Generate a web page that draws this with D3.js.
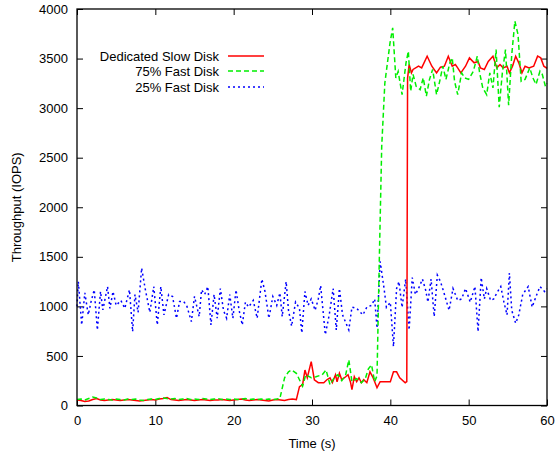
<!DOCTYPE html>
<html><head><meta charset="utf-8">
<script src="https://cdn.jsdelivr.net/npm/d3@7/dist/d3.min.js"></script>
<style>
html,body{margin:0;padding:0;background:#fff;}
svg text{font-family:"Liberation Sans",Arial,sans-serif;font-size:13px;fill:#000;}
</style></head><body>
<svg id="c" width="556" height="454"></svg>
<script>
// ---- data ----
const xTicks = [0, 10, 20, 30, 40, 50, 60];
const yTicks = [0, 500, 1000, 1500, 2000, 2500, 3000, 3500, 4000];
const seriesNames = ["Dedicated Slow Disk", "75% Fast Disk", "25% Fast Disk"];

const slowDisk = [
 [0,55],[0.5,50],[1,40],[1.5,45],[2,60],[2.5,70],[3,55],[3.5,50],[4,55],[4.5,60],[5,55],[5.5,50],[6,55],[6.5,60],[7,55],[7.5,50],[8,45],[8.5,50],[9,55],[9.5,60],[10,55],[10.5,65],[11,70],[11.5,80],[12,60],[12.5,55],[13,50],[13.5,55],[14,60],[14.5,55],[15,50],[15.5,55],[16,60],[16.5,55],[17,50],[17.5,55],[18,55],[18.5,60],[19,55],[19.5,50],[20,55],[20.5,60],[21,65],[21.5,55],[22,50],[22.5,55],[23,60],[23.5,55],[24,50],[24.5,45],[25,55],[25.5,60],[26,55],[26.5,50],[27,60],[27.5,65],
 [28.0,60],[28.4,190],[28.8,210],[29.1,358],[29.4,280],[29.9,443],[30.3,260],[30.8,230],[31.5,230],[31.9,260],[32.3,280],[32.6,230],[33.0,310],[33.2,240],[33.5,325],[33.8,260],[34.3,290],[34.6,310],[34.9,240],[35.1,160],[35.4,290],[35.7,240],[36.0,280],[36.3,230],[36.6,260],[37.0,230],[37.4,340],[37.8,280],[38.3,180],[38.7,240],[39.3,240],[40.0,240],[40.4,340],[40.8,340],[41.2,280],[41.9,230],[42.1,240],
 [42.2,3300],[42.4,3440],[42.7,3356],[42.9,3390],[43.6,3423],[44.0,3406],[44.7,3524],[45.3,3423],[45.9,3356],[46.4,3413],[46.9,3423],[47.4,3524],[47.9,3423],[48.3,3440],[48.6,3406],[49.0,3356],[49.6,3423],[50.1,3507],[50.7,3457],[51.2,3470],[51.5,3406],[52.0,3390],[52.5,3470],[53.1,3524],[53.6,3406],[54.0,3440],[54.4,3406],[54.9,3423],[55.2,3356],[55.6,3423],[56.0,3524],[56.4,3457],[56.8,3356],[57.2,3423],[57.7,3406],[58.3,3423],[58.8,3524],[59.2,3507],[59.6,3423],[60,3400]
];

const fast75 = [
 [0,60],[0.5,65],[1,55],[1.5,70],[2,85],[2.5,75],[3,60],[3.5,65],[4,60],[4.5,55],[5,65],[5.5,60],[6,55],[6.5,65],[7,60],[7.5,65],[8,55],[8.5,50],[9,60],[9.5,65],[10,60],[10.5,70],[11,75],[11.5,70],[12,65],[12.5,70],[13,60],[13.5,65],[14,70],[14.5,60],[15,65],[15.5,60],[16,70],[16.5,65],[17,60],[17.5,65],[18,70],[18.5,60],[19,65],[19.5,60],[20,65],[20.5,60],[21,65],[21.5,70],[22,60],[22.5,65],[23,60],[23.5,65],[24,60],[24.5,65],[25,60],[25.5,65],[25.9,70],
 [26.5,280],[27.0,340],[27.4,358],[28.0,325],[28.4,260],[28.8,195],[29.2,310],[29.9,280],[30.5,290],[31.3,310],[31.8,358],[32.3,210],[32.9,290],[33.3,310],[33.8,250],[34.3,310],[34.7,460],[35.1,240],[35.7,270],[36.3,230],[36.8,270],[37.2,370],[37.6,410],[38.0,240],[38.3,300],
 [38.6,1500],[38.9,2614],[39.3,3254],[39.96,3658],[40.3,3810],[40.7,3305],[41.0,3370],[41.5,3136],[42.0,3456],[42.3,3574],[42.6,3170],[42.9,3340],[43.3,3220],[43.8,3187],[44.2,3305],[44.6,3120],[45.0,3290],[45.4,3390],[45.9,3136],[46.3,3270],[46.7,3423],[47.1,3290],[47.6,3457],[47.9,3507],[48.2,3270],[48.6,3136],[49.1,3356],[49.5,3305],[50.0,3290],[50.6,3373],[51.1,3524],[51.4,3356],[51.8,3204],[52.3,3136],[52.7,3356],[53.1,3204],[53.5,3590],[53.9,3010],[54.3,3356],[54.7,3590],[55.1,3030],[55.5,3540],[55.9,3877],[56.3,3743],[56.7,3270],[57.2,3290],[57.8,3406],[58.2,3305],[58.6,3240],[59.1,3373],[59.4,3340],[59.8,3220],[60,3250]
];

const fast25 = [
 [0,1000],[0.17,1250],[0.6,813],[1.0,1136],[1.44,914],[1.8,1050],[2.2,1167],[2.6,762],[3.0,1150],[3.3,965],[3.9,1200],[4.2,980],[4.6,1150],[5.0,1010],[5.6,1060],[6.1,980],[6.7,1167],[7.1,745],[7.4,1120],[7.8,940],[8.25,1386],[8.7,1180],[9.3,940],[9.8,1200],[10.25,813],[10.7,1200],[11.1,914],[11.7,1120],[12.2,1100],[12.7,880],[13.1,1050],[13.6,1050],[14.0,1010],[14.6,847],[15.0,1100],[15.6,897],[15.9,1167],[16.3,1120],[16.7,1200],[17.1,813],[17.5,1120],[17.9,880],[18.3,1180],[18.7,960],[19.1,880],[19.5,1120],[19.9,880],[20.3,1167],[20.7,960],[21.1,813],[21.5,1043],[21.9,993],[22.5,1060],[23.0,880],[23.6,1275],[24.0,1150],[24.5,880],[25.0,1100],[25.5,1010],[25.9,1136],[26.2,897],[26.7,1250],[27.0,960],[27.4,800],[27.9,1043],[28.4,980],[28.7,732],[29.1,1150],[29.5,1010],[29.9,1075],[30.4,960],[30.8,1075],[31.1,1210],[31.7,715],[32.2,914],[32.7,1180],[33.1,762],[33.5,1180],[33.9,914],[34.7,762],[35.1,993],[35.7,980],[36.5,914],[37.0,993],[37.6,1010],[38.0,1075],[38.3,780],[38.7,1453],[39.2,1180],[39.5,990],[40.0,1040],[40.4,594],[40.8,1180],[41.1,1250],[41.5,990],[41.96,1275],[42.4,762],[42.8,1290],[43.2,1120],[43.6,1180],[44.1,1275],[44.5,1167],[44.8,1043],[45.2,1275],[45.6,897],[46.0,1315],[46.4,1250],[46.8,1150],[47.5,960],[48.0,1180],[48.6,1060],[49.1,1075],[49.6,1180],[50.2,1043],[50.8,1200],[51.2,745],[51.6,1290],[52.0,1075],[52.3,1180],[52.8,1060],[53.2,1075],[53.6,1136],[54.1,1200],[54.5,1043],[54.9,914],[55.2,1336],[55.5,960],[56.0,830],[56.4,914],[56.9,1120],[57.6,1200],[58.1,993],[58.7,1120],[59.1,1200],[59.7,1150],[60,1180]
];

// ---- layout ----
const svg = d3.select("#c");
const L = 77, R = 547, T = 9, B = 405.5;
const x = d3.scaleLinear().domain([0, 60]).range([L, R]);
const y = d3.scaleLinear().domain([0, 4000]).range([B, T]);
const tickLen = 6;
const fmt = d3.format("d");

const styles = [
  {data: slowDisk, color: "#ff0000", dash: null},
  {data: fast75, color: "#00ee00", dash: "5,3"},
  {data: fast25, color: "#0000ff", dash: "2,3"}
];

// axes with inward ticks (bottom/left) and mirrored ticks (top/right)
const gx = svg.append("g").attr("transform", `translate(0,${B})`)
  .call(d3.axisBottom(x).tickValues(xTicks).tickFormat(fmt).tickSizeInner(-tickLen).tickSizeOuter(0).tickPadding(10));
const gxTop = svg.append("g").attr("transform", `translate(0,${T})`)
  .call(d3.axisTop(x).tickValues(xTicks).tickSizeInner(-tickLen).tickSizeOuter(0).tickFormat(""));
const gy = svg.append("g").attr("transform", `translate(${L},0)`)
  .call(d3.axisLeft(y).tickValues(yTicks).tickFormat(fmt).tickSizeInner(-tickLen).tickSizeOuter(0).tickPadding(9));
const gyR = svg.append("g").attr("transform", `translate(${R},0)`)
  .call(d3.axisRight(y).tickValues(yTicks).tickSizeInner(-tickLen).tickSizeOuter(0).tickFormat(""));
[gx, gxTop, gy, gyR].forEach(g => {
  g.select(".domain").remove();
  g.selectAll("line").attr("stroke", "#000").attr("stroke-width", 1);
  g.selectAll("text").attr("font-size", 13).attr("font-family", "Liberation Sans, Arial, sans-serif").attr("fill", "#000");
});

// series
const line = d3.line().x(d => x(d[0])).y(d => y(d[1]));
const order = [2, 0, 1];
order.forEach(i => {
  const s = styles[i];
  svg.append("path").datum(s.data).attr("d", line)
    .attr("fill", "none").attr("stroke", s.color).attr("stroke-width", 1.5)
    .attr("stroke-dasharray", s.dash);
});

// frame
svg.append("rect").attr("x", L).attr("y", T).attr("width", R - L).attr("height", B - T)
  .attr("fill", "none").attr("stroke", "#000").attr("stroke-width", 1.3);

// legend
const legY = [56, 71, 87];
seriesNames.forEach((n, i) => {
  svg.append("text").attr("x", 219).attr("y", legY[i]).attr("dy", "0.35em")
    .attr("text-anchor", "end").text(n);
  svg.append("line").attr("x1", 228).attr("x2", 264).attr("y1", legY[i]).attr("y2", legY[i])
    .attr("stroke", styles[i].color).attr("stroke-width", 1.5).attr("stroke-dasharray", styles[i].dash);
});

// axis titles
svg.append("text").attr("x", (L + R) / 2).attr("y", 448).attr("text-anchor", "middle").text("Time (s)");
svg.append("text").attr("transform", `translate(21,${(T + B) / 2}) rotate(-90)`)
  .attr("text-anchor", "middle").text("Throughput (IOPS)");
</script>
</body></html>
